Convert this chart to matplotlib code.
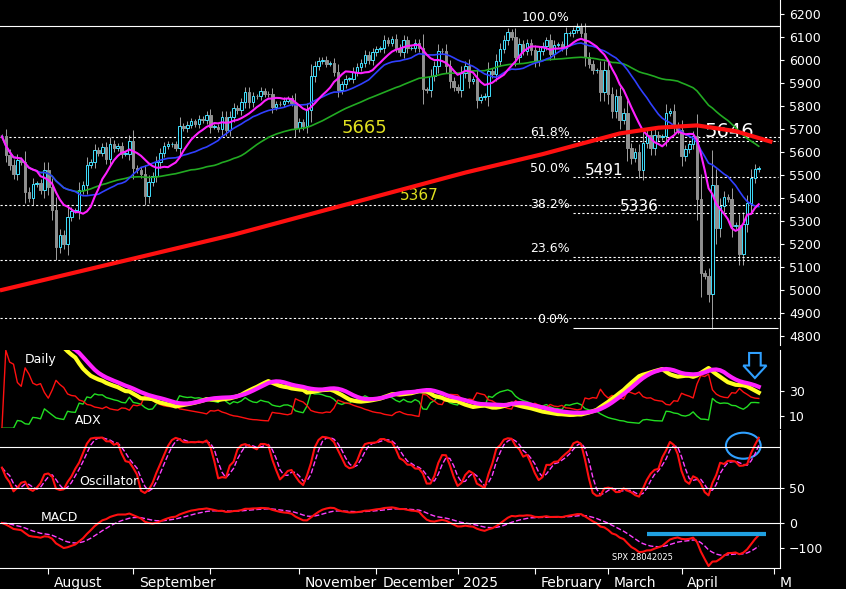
import numpy as np, pandas as pd
import matplotlib
matplotlib.use("Agg")
import matplotlib.pyplot as plt
from matplotlib.patches import Rectangle, Ellipse, FancyArrow

closes = [5667,5588,5545,5505,5564,5555,5427,5399,5459,5464,5436,5522,
5446,5346,5186,5240,5199,5319,5344,5344,5434,5455,5543,5554,5608,5597,5620,5571,5635,5616,5625,5592,5592,5648,
5529,5520,5503,5408,5471,5496,5554,5596,5626,5633,5634,5618,5714,5703,5718,5732,5722,5745,5738,5762,
5709,5709,5700,5751,5696,5751,5792,5780,5815,5859,5815,5842,5841,5865,5853,5851,5797,5809,5808,5823,5832,5813,5705,
5729,5712,5782,5929,5973,5995,6001,5984,5985,5949,5870,5893,5917,5917,5948,5969,5987,6021,5998,6032,
6047,6050,6086,6075,6090,6053,6034,6084,6051,6051,6074,6050,5872,5867,5931,5974,6040,6037,5971,5907,5882,
5869,5942,5975,5909,5918,5827,5837,5843,5950,5937,5997,6049,6086,6119,6101,6012,6068,6039,6071,6041,
5994,6037,6061,6084,6026,6066,6068,6052,6115,6115,6129,6144,6117,6013,5983,5955,5956,5861,5955,
5850,5778,5842,5739,5770,5615,5572,5599,5521,5639,5675,5615,5675,5663,5667,5768,5777,5712,5693,5581,5612,
5633,5671,5397,5074,5062,4982,5457,5268,5363,5406,5397,5276,5283,5158,5288,5376,5485,5525,5529]
# first trading-day index of each month and its label
month_idx = [12, 34, 54, 77, 97, 118, 138, 157, 176, 200]
month_lbl = ["August", "September", "", "November", "December", "2025", "February", "March", "April", "M"]
# 200-day average sampled every 10 sessions
ma200_x = [0, 20, 40, 60, 80, 100, 120, 140, 160, 170, 180, 190, 199]
ma200_v = [5000, 5080, 5160, 5240, 5330, 5420, 5510, 5590, 5680, 5705, 5715, 5690, 5645]

N = len(closes)
c = pd.Series(closes, dtype=float)
o = c.shift(1).fillna(c.iloc[0])
rng = (c - o).abs()
h = np.maximum(o, c) + 0.3 * rng + 10
l = np.minimum(o, c) - 0.3 * rng - 10
x = np.arange(N)

bg = "black"
fig = plt.figure(figsize=(8.46, 5.89), dpi=100, facecolor=bg)
W = 780 / 846
ax = fig.add_axes([0, 0.414, W, 0.586], facecolor=bg)
a1 = fig.add_axes([0, 0.273, W, 0.132], facecolor=bg, sharex=ax)
a2 = fig.add_axes([0, 0.148, W, 0.122], facecolor=bg, sharex=ax)
a3 = fig.add_axes([0, 0.036, W, 0.110], facecolor=bg, sharex=ax)

# candles
for i in range(N):
    up = c[i] >= o[i]
    ax.vlines(i, l[i], h[i], color="#a0a0a0", lw=0.7, zorder=2)
    lo, hi = min(o[i], c[i]), max(o[i], c[i])
    ax.add_patch(Rectangle((i - 0.33, lo), 0.66, max(hi - lo, 2),
                           facecolor="black" if up else "#909090",
                           edgecolor="#40e0ff" if up else "#909090", lw=0.7, zorder=3))
ax.plot(x, c.rolling(50, min_periods=1).mean(), color="#22aa22", lw=1.2, zorder=4)
ax.plot(x, c.rolling(20, min_periods=1).mean(), color="#3040ff", lw=1.2, zorder=4)
ax.plot(x, c.rolling(10, min_periods=1).mean(), color="#ff20ff", lw=1.5, zorder=5)
ax.plot(ma200_x, ma200_v, color="#ff1010", lw=3, zorder=5)

lowp, highp = 4835, 6147
for lvl in [5665, 5367, 5130, 4880]:
    ax.axhline(lvl, color="white", ls=(0, (2, 2)), lw=0.8)
ax.axhline(6145, color="white", lw=0.8)
x0 = 148
for f, lab in [(1.0, "100.0%"), (0.618, "61.8%"), (0.5, "50.0%"), (0.382, "38.2%"), (0.236, "23.6%"), (0.0, "0.0%")]:
    v = lowp + f * (highp - lowp)
    ax.hlines(v, x0, N + 4, color="white", lw=0.8, ls="-" if f in (0, 1) else (0, (2, 2)))
    ax.text(x0 - 1, v + 8, lab, color="white", fontsize=9, ha="right", va="bottom")
ax.text(88, 5680, "5665", color="#e0e020", fontsize=13)
ax.text(103, 5390, "5367", color="#e0e020", fontsize=11)
ax.text(151, 5500, "5491", color="white", fontsize=11)
ax.text(160, 5345, "5336", color="white", fontsize=11)
ax.text(182, 5665, "5646", color="white", fontsize=14)
ax.set_ylim(4760, 6260)
ax.set_yticks(range(4800, 6201, 100))

# ADX / DMI (Wilder smoothing)
up_m = pd.Series(h).diff(); dn_m = -pd.Series(l).diff()
pdm = np.where((up_m > dn_m) & (up_m > 0), up_m, 0.0)
ndm = np.where((dn_m > up_m) & (dn_m > 0), dn_m, 0.0)
tr = pd.concat([pd.Series(h) - pd.Series(l), (pd.Series(h) - c.shift()).abs(), (pd.Series(l) - c.shift()).abs()], axis=1).max(axis=1)
al = 1 / 14
atr = tr.ewm(alpha=al, min_periods=1).mean()
pdi = 100 * pd.Series(pdm).ewm(alpha=al, min_periods=1).mean() / atr
ndi = 100 * pd.Series(ndm).ewm(alpha=al, min_periods=1).mean() / atr
dx = 100 * (pdi - ndi).abs() / (pdi + ndi)
adx = dx.ewm(alpha=al, min_periods=1).mean()
a1.plot(x, pdi, color="#22dd22", lw=1)
a1.plot(x, ndi, color="#ff1010", lw=1)
a1.plot(x, adx, color="#ffff20", lw=3)
a1.plot(x, adx.rolling(5, min_periods=1).mean() + 1.5, color="#ff20ff", lw=3)
a1.set_ylim(0, 62); a1.set_yticks([10, 30])
a1.text(6, 52, "Daily", color="white", fontsize=9)
a1.text(19, 3, "ADX", color="white", fontsize=9)
a1.add_patch(FancyArrow(195, 60, 0, -20, width=3, head_width=6, head_length=10,
                        facecolor="none", edgecolor="#30a0ff", lw=1.5, length_includes_head=True))

# Stochastic oscillator
ll = pd.Series(l).rolling(9, min_periods=1).min(); hh = pd.Series(h).rolling(9, min_periods=1).max()
k = 100 * (c - ll) / (hh - ll)
k = k.rolling(3, min_periods=1).mean()
d = k.rolling(3, min_periods=1).mean()
a2.plot(x, d, color="#ff40ff", lw=1, ls="--")
a2.plot(x, k, color="#ff1010", lw=1.5)
a2.axhline(80, color="white", lw=0.8); a2.axhline(20, color="white", lw=0.8)
a2.set_ylim(0, 105); a2.set_yticks([20]); a2.set_yticklabels(["50"])
a2.text(20, 25, "Oscillator", color="white", fontsize=9)
a2.add_patch(Ellipse((192, 82), 9, 38, facecolor="none", edgecolor="#30a0ff", lw=1.5))

# MACD
macd = c.ewm(span=12, adjust=False).mean() - c.ewm(span=26, adjust=False).mean()
sig = macd.ewm(span=9, adjust=False).mean()
a3.plot(x, sig, color="#ff40ff", lw=1, ls="--")
a3.plot(x, macd, color="#ff1010", lw=1.5)
a3.axhline(0, color="white", lw=0.8)
a3.hlines(-45, 167, 198, color="#20a0e0", lw=3)
a3.set_ylim(-180, 80); a3.set_yticks([0, -100])
a3.text(10, 8, "MACD", color="white", fontsize=9)
a3.text(158, -150, "SPX 28042025", color="white", fontsize=6)

for a in (ax, a1, a2, a3):
    a.yaxis.tick_right()
    a.tick_params(colors="white", labelsize=9, length=3)
    for s in a.spines.values():
        s.set_visible(False)
    a.spines["right"].set_visible(True); a.spines["right"].set_color("white")
    a.tick_params(axis="x", labelbottom=False, length=0)
a3.spines["bottom"].set_visible(True); a3.spines["bottom"].set_color("white")
ax.set_xlim(-0.5, N + 4.5)
a3.set_xticks(month_idx)
a3.tick_params(axis="x", length=4, colors="white")
for mi, ml in zip(month_idx, month_lbl):
    a3.text(mi + 1.5, -0.12, ml, transform=a3.get_xaxis_transform(), color="white",
            fontsize=10, va="top", ha="left", clip_on=False)
fig.savefig("out.png", dpi=100, facecolor=bg)
